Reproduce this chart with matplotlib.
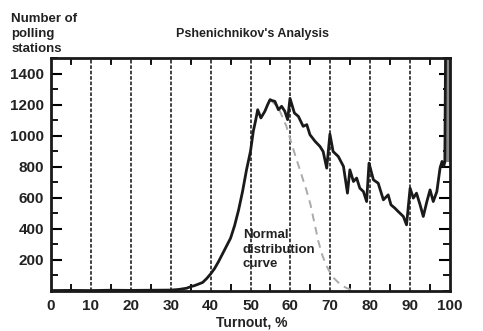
import matplotlib.pyplot as plt
from matplotlib.ticker import MultipleLocator

plt.rcParams['font.family'] = ['Liberation Sans', 'DejaVu Sans']

# turnout (%) vs number of polling stations
turnout = [0, 5, 10, 15, 20, 25, 30,
           32, 34, 35, 36, 37, 38, 39, 40,
           41, 42, 43, 44, 45, 46, 47, 48, 49, 50,
           50.7, 51.3, 51.8, 52.6, 53.6, 54.3, 54.9, 55.5, 56.1, 57,
           57.8, 58.6, 59.3, 59.9, 61, 62, 63.2, 64.1, 64.9, 66.2,
           67.4, 68.2, 69.1, 69.9, 70.7, 72, 73.3, 74.3, 74.9, 75.8,
           76.6, 77.4, 78.3, 79.1, 79.7, 80.8, 82, 83.3, 84.5, 85.2,
           86.2, 87, 88.3, 89.1, 90, 90.8, 91.6, 92.5, 93.3, 94.2,
           95, 95.8, 96.7, 97.5, 98.0, 98.4, 98.7, 98.9, 100]
stations = [3, 4, 3, 5, 4, 5, 6,
            10, 18, 28, 35, 45, 55, 80, 110,
            145, 190, 240, 290, 340, 420, 520, 640, 780, 900,
            1028, 1100, 1167, 1114, 1157, 1200, 1232, 1225, 1221, 1167,
            1189, 1157, 1103, 1240, 1146, 1124, 1060, 1071, 1006, 963,
            931, 898, 791, 1010, 898, 866, 802, 630, 780, 705,
            727, 662, 640, 576, 823, 716, 694, 587, 619, 555,
            533, 512, 480, 426, 662, 598, 630, 555, 480, 576,
            651, 576, 640, 791, 834, 802, 830, 1600, 1600]

# right half of the normal distribution curve
normal_x = [55, 57, 59, 60, 61, 62, 63, 64, 65, 66, 67, 68, 69, 70,
            71, 72, 73, 74, 75, 76]
normal_y = [1230, 1180, 1060, 975, 890, 810, 730, 650, 560, 440, 320,
            230, 165, 115, 80, 55, 35, 20, 10, 5]

xticks = list(range(0, 101, 10))
yticks = [200, 400, 600, 800, 1000, 1200, 1400]

fig = plt.figure(figsize=(4.83, 3.31), dpi=100)
ax = fig.add_axes([0.1056, 0.1208, 0.8261, 0.704])

for x in xticks[1:-1]:
    ax.axvline(x, color='#333333', lw=1.3, ls=(0, (2, 1)), zorder=1)

ax.plot(normal_x, normal_y, color='#aaaaaa', lw=1.4, ls=(0, (4, 3)), zorder=2)
# 100% bin runs off the top of the scale; shade it grey like the print
ax.fill_between(turnout[-2:], stations[-3], stations[-2:], color='#888888',
                lw=0, zorder=2)
ax.plot(turnout, stations, color='#1a1a1a', lw=2, zorder=3)

ax.set_xlim(0, 100)
ax.set_ylim(0, 1500)
ax.set_xticks(xticks)
ax.set_yticks(yticks)
ax.xaxis.set_minor_locator(MultipleLocator(5))
ax.yaxis.set_minor_locator(MultipleLocator(100))

ax.tick_params(axis='x', which='major', length=0, pad=6, labelsize=11)
ax.tick_params(axis='x', which='minor', direction='in', length=5, width=1.3,
               top=True, bottom=True)
ax.tick_params(axis='y', which='major', direction='in', length=8, width=1.5,
               labelsize=11, right=True, pad=5)
ax.tick_params(axis='y', which='minor', direction='in', length=5, width=1.3,
               right=True)
for lab in ax.get_xticklabels() + ax.get_yticklabels():
    lab.set_fontweight('bold')
    lab.set_color('#222222')

for s in ax.spines.values():
    s.set_linewidth(2)
    s.set_color('#1a1a1a')

ax.text(48.1, 400, 'Normal\ndistribution\ncurve', ha='left', va='top',
        fontsize=9.5, fontweight='bold', color='#222222', linespacing=1.3)

fig.text(0.023, 0.962, 'Number of\npolling\nstations', ha='left', va='top',
         fontsize=9.5, fontweight='bold', color='#222222', linespacing=1.35)
fig.text(0.522, 0.897, "Pshenichnikov's Analysis", ha='center', va='center',
         fontsize=9, fontweight='bold', color='#222222')
fig.text(0.522, 0.025, 'Turnout, %', ha='center', va='center',
         fontsize=10, fontweight='bold', color='#222222')

fig.savefig('out.png', dpi=100)
